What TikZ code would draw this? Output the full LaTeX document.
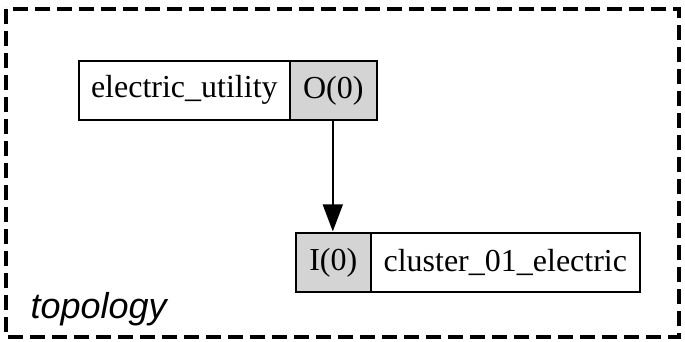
\documentclass[tikz,border=0pt]{standalone}
\usepackage{fontspec}
\setmainfont{Liberation Serif}
\setsansfont{Liberation Sans}
\usetikzlibrary{arrows.meta}
\definecolor{portgray}{gray}{0.83}
\tikzset{
  field/.style={draw=black, line width=1.6pt, inner sep=0pt, anchor=north west,
    font=\fontsize{32}{36}\selectfont},
  portfield/.style={field, fill=portgray},
}
\begin{document}
\begin{tikzpicture}[x=1pt, y=-1pt]
  \useasboundingbox (0,0) rectangle (685,341);
  % cluster frame
  \draw[line width=3.4pt, dash pattern=on 15pt off 7pt] (6,9) rectangle (679,337);
  \node[font=\sffamily\itshape\fontsize{36}{40}\selectfont, anchor=base west] (lbl) at (27,318) {topology};
  % record: electric_utility
  \node[field, minimum width=211pt, minimum height=59pt] (eu) at (78,60) {electric\_utility};
  \node[portfield, minimum width=87pt, minimum height=59pt] (out) at (289,60) {O(0)};
  % record: cluster_01_electric
  \node[portfield, minimum width=75pt, minimum height=59pt] (in) at (295,232) {I(0)};
  \node[field, minimum width=269pt, minimum height=59pt] (ce) at (370,232) {cluster\_01\_electric};
  % connector
  \draw[line width=1.6pt, -{Triangle[length=27pt, width=20pt]}, shorten >=0.6pt]
    ([xshift=-0.5pt]out.south) -- ([xshift=-0.5pt]out.south |- in.north);
\end{tikzpicture}
\end{document}
